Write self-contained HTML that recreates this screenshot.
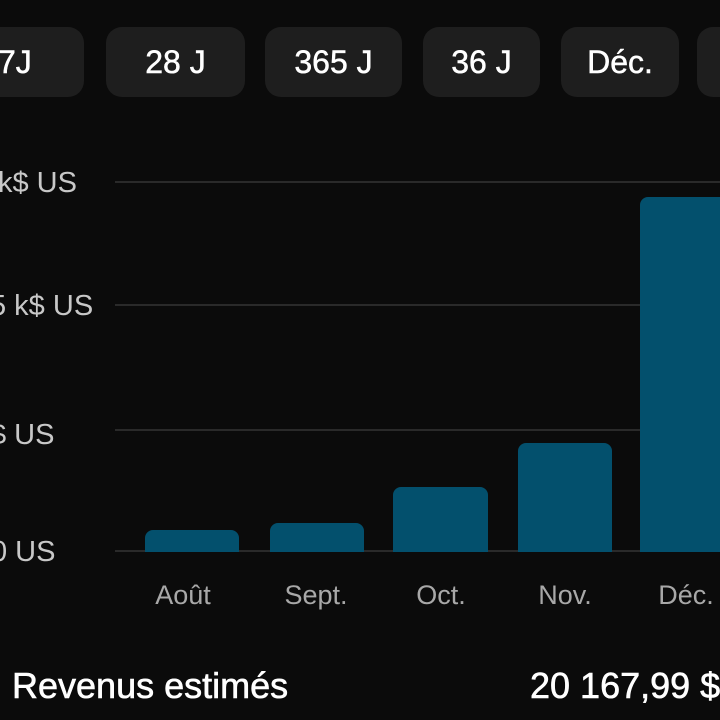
<!DOCTYPE html>
<html><head><style>
body{margin:0;width:720px;height:720px;background:#0b0b0b;overflow:hidden;position:relative;font-family:"Liberation Sans",sans-serif;color:#fff}
.p{position:absolute;top:27px;height:70px;background:#1e1e1e;border-radius:16px;font-size:32px;-webkit-text-stroke:0.5px #fff;line-height:70px;text-align:center;color:#fff}
.g{position:absolute;left:115px;right:0;height:2px;background:#2a2a2a}
.y{position:absolute;font-size:29px;color:#c8c8c8}
.b{position:absolute;background:#03506d;border-radius:8px 8px 0 0}
.m{position:absolute;top:580px;font-size:27px;color:#a8a8a8;width:140px;text-align:center}
.t{position:absolute;top:665px;font-size:36px;-webkit-text-stroke:0.6px #fff;white-space:nowrap}
</style></head><body>
<div class="p" style="left:-60px;width:144px;padding-left:58px;box-sizing:border-box;text-align:left">7J</div>
<div class="p" style="left:106px;width:139px">28 J</div>
<div class="p" style="left:265px;width:137px">365 J</div>
<div class="p" style="left:423px;width:117px">36 J</div>
<div class="p" style="left:561px;width:118px">Déc.</div>
<div class="p" style="left:697px;width:80px"></div>
<div class="g" style="top:181px"></div>
<div class="g" style="top:304px"></div>
<div class="g" style="top:429px"></div>
<div class="g" style="top:550px"></div>
<div class="y" style="left:-2px;top:167px">k$ US</div>
<div class="y" style="left:-10px;top:290px">5 k$ US</div>
<div class="y" style="left:-10px;top:419px">$ US</div>
<div class="y" style="left:-9px;top:536px">0 US</div>
<div class="b" style="left:145px;width:94px;top:530px;height:22px"></div>
<div class="b" style="left:270px;width:94px;top:523px;height:29px"></div>
<div class="b" style="left:393px;width:95px;top:487px;height:65px"></div>
<div class="b" style="left:518px;width:94px;top:443px;height:109px"></div>
<div class="b" style="left:640px;width:90px;top:197px;height:355px"></div>
<div class="m" style="left:113px">Août</div>
<div class="m" style="left:246px">Sept.</div>
<div class="m" style="left:371px">Oct.</div>
<div class="m" style="left:495px">Nov.</div>
<div class="m" style="left:616px">Déc.</div>
<div class="t" style="left:12px">Revenus estimés</div>
<div class="t" style="left:530px">20 167,99 $</div>
</body></html>
